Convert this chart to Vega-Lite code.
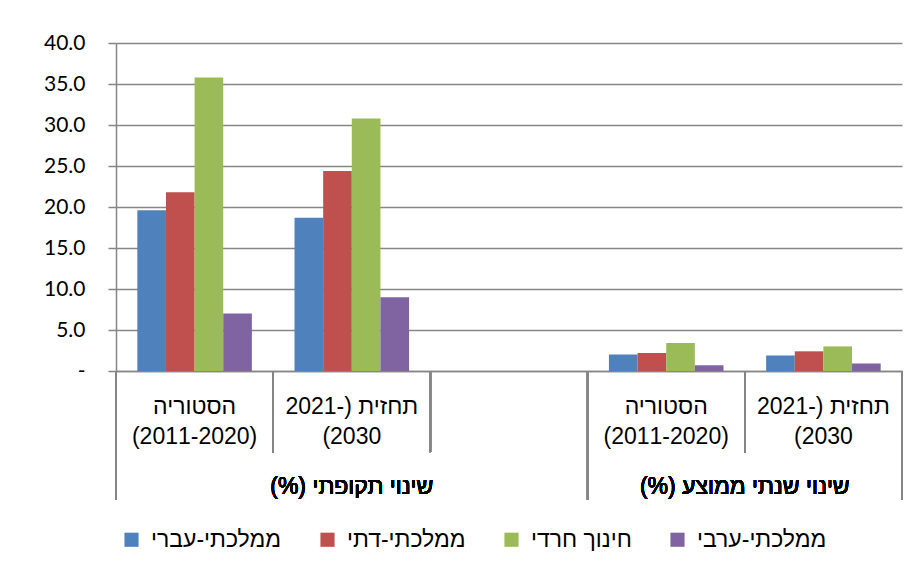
{
  "$schema": "https://vega.github.io/schema/vega-lite/v6.json",
  "width": 786,
  "height": 328,
  "autosize": {"type": "none"},
  "padding": {"left": 116, "top": 43, "right": 15, "bottom": 198},
  "background": "white",
  "config": {"view": {"stroke": null}, "font": "Liberation Sans"},
  "data": {
    "values": [
      {"cat": "p-hist", "series": "ממלכתי-עברי", "value": 19.6},
      {"cat": "p-hist", "series": "ממלכתי-דתי", "value": 21.8},
      {"cat": "p-hist", "series": "חינוך חרדי", "value": 35.8},
      {"cat": "p-hist", "series": "ממלכתי-ערבי", "value": 7.0},
      {"cat": "p-fcst", "series": "ממלכתי-עברי", "value": 18.7},
      {"cat": "p-fcst", "series": "ממלכתי-דתי", "value": 24.4},
      {"cat": "p-fcst", "series": "חינוך חרדי", "value": 30.8},
      {"cat": "p-fcst", "series": "ממלכתי-ערבי", "value": 9.0},
      {"cat": "a-hist", "series": "ממלכתי-עברי", "value": 2.0},
      {"cat": "a-hist", "series": "ממלכתי-דתי", "value": 2.2},
      {"cat": "a-hist", "series": "חינוך חרדי", "value": 3.4},
      {"cat": "a-hist", "series": "ממלכתי-ערבי", "value": 0.7},
      {"cat": "a-fcst", "series": "ממלכתי-עברי", "value": 1.9},
      {"cat": "a-fcst", "series": "ממלכתי-דתי", "value": 2.4},
      {"cat": "a-fcst", "series": "חינוך חרדי", "value": 3.0},
      {"cat": "a-fcst", "series": "ממלכתי-ערבי", "value": 0.9}
    ]
  },
  "layer": [
    {
      "mark": {"type": "bar"},
      "encoding": {
        "x": {
          "field": "cat",
          "type": "nominal",
          "title": null,
          "scale": {"domain": ["p-hist", "p-fcst", "gap", "a-hist", "a-fcst"], "paddingInner": 0, "paddingOuter": 0},
          "axis": {
            "title": null,
            "labels": false,
            "ticks": false,
            "domainColor": "#868686",
            "domainWidth": 1.5,
            "grid": false
          }
        },
        "xOffset": {
          "field": "series",
          "type": "nominal",
          "scale": {"domain": ["ממלכתי-עברי", "ממלכתי-דתי", "חינוך חרדי", "ממלכתי-ערבי"], "paddingInner": 0, "paddingOuter": 0.745}
        },
        "y": {
          "field": "value",
          "type": "quantitative",
          "title": null,
          "scale": {"domain": [0, 40], "nice": false},
          "axis": {
            "title": null,
            "values": [0, 5, 10, 15, 20, 25, 30, 35, 40],
            "labelExpr": "datum.value == 0 ? '-\u00a0\u00a0\u00a0' : format(datum.value, '.1f')",
            "labelFont": "Lato",
            "labelFontSize": 21,
            "labelColor": "black",
            "tickSize": 8,
            "labelPadding": 23,
            "domainColor": "#868686",
            "domainWidth": 1.5,
            "tickColor": "#868686",
            "tickWidth": 1.5,
            "grid": true,
            "gridColor": "#878787",
            "gridWidth": 1.5
          }
        },
        "color": {
          "field": "series",
          "type": "nominal",
          "scale": {"domain": ["ממלכתי-עברי", "ממלכתי-דתי", "חינוך חרדי", "ממלכתי-ערבי"], "range": ["#4F81BD", "#C0504D", "#9BBB59", "#8064A2"]},
          "legend": {
            "title": null,
            "orient": "none",
            "legendX": 4,
            "legendY": 485,
            "direction": "horizontal",
            "symbolType": "square",
            "symbolSize": 200,
            "labelFont": "Liberation Sans",
            "labelFontSize": 23,
            "labelColor": "black",
            "labelLimit": 300,
            "columnPadding": 34,
            "labelOffset": 8
          }
        }
      }
    },
    {
      "data": {
        "values": [
          {"cat": "p-hist", "label": "הסטוריה|(2011-2020)"},
          {"cat": "p-fcst", "label": "תחזית (-2021|(2030"},
          {"cat": "a-hist", "label": "הסטוריה|(2011-2020)"},
          {"cat": "a-fcst", "label": "תחזית (-2021|(2030"}
        ]
      },
      "mark": {"type": "text", "font": "Liberation Sans", "fontSize": 23, "lineBreak": "|", "lineHeight": 30, "baseline": "alphabetic", "align": "center", "color": "black"},
      "encoding": {
        "x": {"field": "cat", "type": "nominal", "title": null},
        "y": {"datum": -5.2, "type": "quantitative"},
        "text": {"field": "label"}
      }
    },
    {
      "mark": {"type": "rule", "color": "#868686", "strokeWidth": 1.5},
      "encoding": {
        "x": {"datum": "p-fcst", "type": "nominal", "bandPosition": 0},
        "y": {"datum": 0, "type": "quantitative"},
        "y2": {"datum": -9.9}
      }
    },
    {
      "mark": {"type": "rule", "color": "#868686", "strokeWidth": 1.5},
      "encoding": {
        "x": {"datum": "gap", "type": "nominal", "bandPosition": 0},
        "y": {"datum": 0, "type": "quantitative"},
        "y2": {"datum": -9.9}
      }
    },
    {
      "mark": {"type": "rule", "color": "#868686", "strokeWidth": 1.5},
      "encoding": {
        "x": {"datum": "a-fcst", "type": "nominal", "bandPosition": 0},
        "y": {"datum": 0, "type": "quantitative"},
        "y2": {"datum": -9.9}
      }
    },
    {
      "mark": {"type": "rule", "color": "#868686", "strokeWidth": 1.5},
      "encoding": {
        "x": {"datum": "p-hist", "type": "nominal", "bandPosition": 0},
        "y": {"datum": 0, "type": "quantitative"},
        "y2": {"datum": -15.7}
      }
    },
    {
      "mark": {"type": "rule", "color": "#868686", "strokeWidth": 1.5},
      "encoding": {
        "x": {"datum": "a-hist", "type": "nominal", "bandPosition": 0},
        "y": {"datum": 0, "type": "quantitative"},
        "y2": {"datum": -15.7}
      }
    },
    {
      "mark": {"type": "rule", "color": "#868686", "strokeWidth": 1.5},
      "encoding": {
        "x": {"datum": "a-fcst", "type": "nominal", "bandPosition": 1},
        "y": {"datum": 0, "type": "quantitative"},
        "y2": {"datum": -15.7}
      }
    },
    {
      "mark": {"type": "text", "font": "Liberation Sans", "fontSize": 23, "baseline": "middle", "align": "center", "color": "black"},
      "encoding": {
        "x": {"datum": "p-fcst", "type": "nominal"},
        "y": {"datum": -14.1, "type": "quantitative"},
        "text": {"value": "(%) שינוי תקופתי"}
      }
    },
    {
      "mark": {"type": "text", "font": "Liberation Sans", "fontSize": 23, "baseline": "middle", "align": "center", "color": "black"},
      "encoding": {
        "x": {"datum": "a-fcst", "type": "nominal", "bandPosition": 0},
        "y": {"datum": -14.1, "type": "quantitative"},
        "text": {"value": "(%) שינוי שנתי ממוצע"}
      }
    }
  ]
}
